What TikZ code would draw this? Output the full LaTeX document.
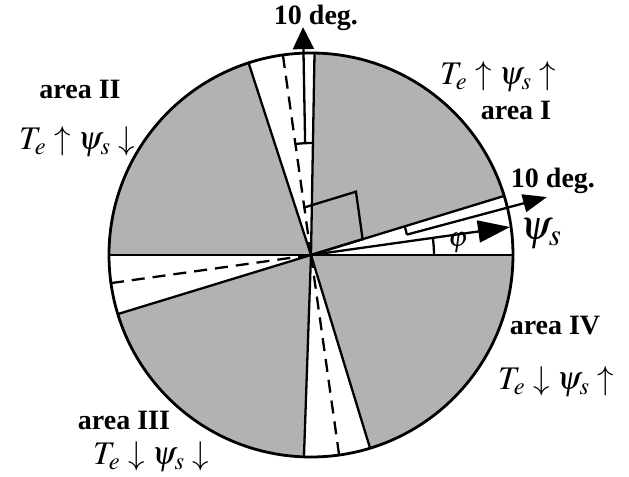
\documentclass[tikz,border=0pt]{standalone}
\usepackage{mathptmx}
\usepackage{fontspec}
\setmainfont{Liberation Serif}
\usepackage{tikz}
\usetikzlibrary{arrows.meta,calc}

\begin{document}
\begin{tikzpicture}[
    x=0.5pt, y=0.5pt,
    sector/.style={fill=gray!60},
    bound/.style={draw=black, line width=1.15pt},
    midline/.style={draw=black, line width=1.15pt, dash pattern=on 6.5pt off 4pt},
    lbl/.style={font=\bfseries\fontsize{14}{16}\selectfont, inner sep=0pt},
    cond/.style={font=\fontsize{16.5}{18}\selectfont, inner sep=0pt},
    vec/.style={draw, line width=1.15pt, -{Triangle[length=16pt,width=11pt]}},
    degvec/.style={draw, line width=1.15pt, -{Triangle[length=12pt,width=9pt]}}
]
    \def\r{202}
    \useasboundingbox (-311,-222) rectangle (318,255);
    \coordinate (O) at (0,0);

    % shaded areas and their borders
    \foreach \a/\b in {17/89,108/180,197/268,287/360}
        \fill[sector] (O) -- (\a:\r) arc[start angle=\a, end angle=\b, radius=\r] -- cycle;
    \foreach \a in {0,17,89,108,180,197,268,287}
        \draw[bound] (O) -- (\a:\r);
    \foreach \a in {98,188,278}
        \draw[midline] (O) -- (\a:\r);

    % right angle mark
    \draw[bound] (O) -- (17:54) -- ($(17:54)+(98:48)$) -- (98:48);

    % small angle arcs
    \draw[bound] (0:123) arc[start angle=0, end angle=8, radius=123];
    \draw[bound] (12:98) arc[start angle=12, end angle=17, radius=98];
    \draw[bound] (89:112) arc[start angle=89, end angle=98, radius=112];

    % vectors
    \coordinate (psitip) at (8:201);
    \coordinate (rbase) at (12:98);
    \coordinate (rtip) at (13.8:243);
    \coordinate (tbase) at (93:112);
    \coordinate (ttip) at (92:228);
    \draw[vec] (O) -- (psitip);
    \draw[degvec] (rbase) -- (rtip);
    \draw[degvec, -{Triangle[length=11pt,width=10.5pt]}] (tbase) -- (ttip);

    \draw[line width=1.4pt] (O) circle[radius=\r];

    % labels
    \node[lbl] (top10) at (5,237) {10 deg.};
    \node[lbl] (right10) at (242,74) {10 deg.};
    \node[font=\fontsize{21}{24}\selectfont, inner sep=0pt] (psilbl) at (230,21) {$\psi_s$};
    \node[font=\fontsize{14}{16}\selectfont, inner sep=0pt] (philbl) at (147,12) {$\varphi$};

    \node[cond, anchor=base] (condI) at (187,170) {$T_e\uparrow\psi_s\uparrow$};
    \node[lbl, anchor=base] (areaI) at (205,135) {area I};
    \node[lbl, anchor=base] (areaII) at (-231,156) {area II};
    \node[cond, anchor=base] (condII) at (-234,105) {$T_e\uparrow\psi_s\downarrow$};
    \node[lbl, anchor=base] (areaIV) at (244,-80) {area IV};
    \node[cond, anchor=base] (condIV) at (245,-135) {$T_e\downarrow\psi_s\uparrow$};
    \node[lbl, anchor=base] (areaIII) at (-187,-175) {area III};
    \node[cond, anchor=base] (condIII) at (-160,-210) {$T_e\downarrow\psi_s\downarrow$};
\end{tikzpicture}
\end{document}
